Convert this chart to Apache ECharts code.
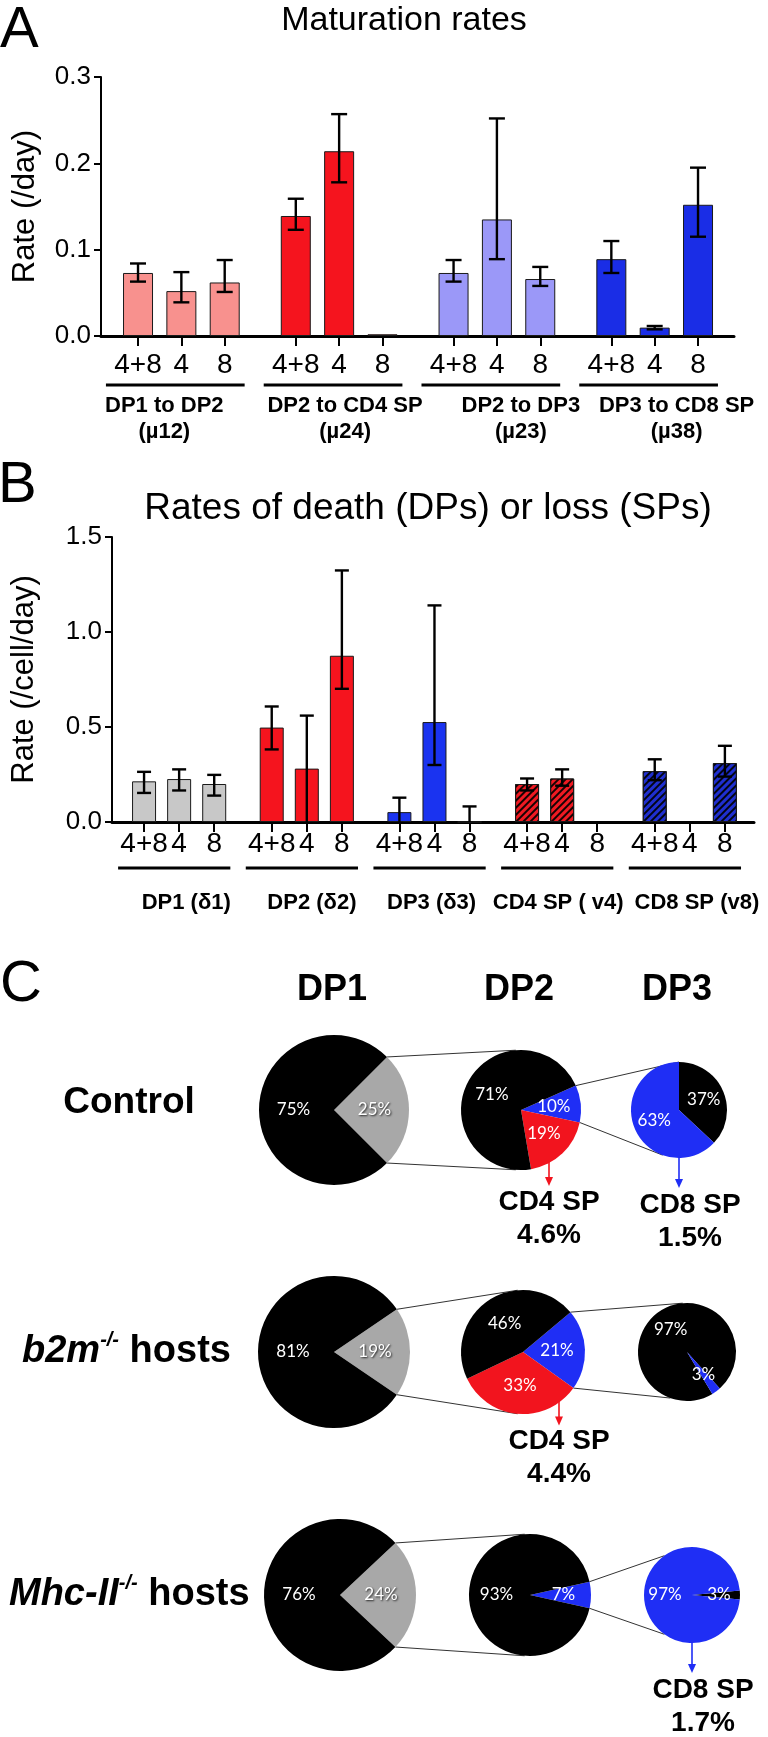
<!DOCTYPE html>
<html>
<head>
<meta charset="utf-8">
<title>Maturation and death rates</title>
<script src="https://cdn.jsdelivr.net/npm/echarts@6/dist/echarts.min.js"></script>
<style>
  html, body { margin: 0; padding: 0; background: #fff; }
  #main { width: 768px; height: 1737px; }
</style>
</head>
<body>
<div id="main"></div>
<script>
// ---------- data ----------
var SUBSETS = ['4+8', '4', '8'];

var A_GROUPS = ['DP1 to DP2\n(\u00b512)', 'DP2 to CD4 SP\n(\u00b524)', 'DP2 to DP3\n(\u00b523)', 'DP3 to CD8 SP\n(\u00b538)'];
var A_RATE = [[0.073, 0.052, 0.062], [0.139, 0.214, 0.002], [0.073, 0.135, 0.066], [0.089, 0.0097, 0.152]];
var A_LOW  = [[0.063, 0.039, 0.051], [0.123, 0.178, null], [0.063, 0.089, 0.058], [0.073, 0.0077, 0.115]];
var A_HIGH = [[0.084, 0.074, 0.088], [0.159, 0.257, null], [0.088, 0.252, 0.080], [0.110, 0.0116, 0.195]];
var A_TICKS = [0, 0.1, 0.2, 0.3];

var B_GROUPS = ['DP1 (\u03b41)', 'DP2 (\u03b42)', 'DP3 (\u03b43)', 'CD4 SP ( v4)', 'CD8 SP (v8)'];
var B_RATE = [[0.214, 0.226, 0.200], [0.497, 0.281, 0.875], [0.052, 0.526, 0], [0.200, 0.229, null], [0.268, null, 0.310]];
var B_LOW  = [[0.153, 0.166, 0.139], [0.382, 0, 0.701], [0, 0.300, 0], [0.166, 0.191, null], [0.220, null, 0.239]];
var B_HIGH = [[0.264, 0.277, 0.248], [0.608, 0.560, 1.324], [0.128, 1.14, 0.082], [0.229, 0.277, null], [0.330, null, 0.401]];
var B_TICKS = [0, 0.5, 1.0, 1.5];

var PIE_COLUMNS = ['DP1', 'DP2', 'DP3'];
var HOSTS = [['Control'], ['b2m', '-/-', ' hosts'], ['Mhc-II', '-/-', ' hosts']];
var DP1_SPLIT = [[75, 25], [81, 19], [76, 24]];             // stay, go on to DP2
var DP2_SPLIT = [[10, 19, 71], [21, 33, 46], [7, 0, 93]];   // to DP3, to CD4 SP, stay
var DP3_SPLIT = [[37, 63], [97, 3], [3, 97]];               // stay, to CD8 SP
var CD4_OUT = ['4.6%', '4.4%', null];
var CD8_OUT = ['1.5%', null, '1.7%'];

// ---------- layout / style ----------
var FONT = '"Liberation Sans", Arial, Helvetica, sans-serif';
var PCT_FONT = 'Lato, "Open Sans", sans-serif';
var GROUP_STEP = 3.64;
var A_COLORS = ['#f8918e', '#f5141e', '#9b98f8', '#1a2de6'];
var B_COLORS = ['#c8c8c8', '#f5141e', '#1a33f0', '#f01a22', '#1f2fd0'];
var B_HATCH = [false, false, false, true, true];
var A_SHIFT = [-11, 12, 30, 28];
var B_SHIFT = [12, 10, 2, 1, 12];

// pie centres and radii per row: DP1, DP2, DP3
var PIES = [
  [[334, 1110, 75], [521, 1110, 60], [679, 1110, 48]],
  [[334, 1352, 76], [523, 1352, 62], [687, 1352, 49]],
  [[340, 1595, 76], [530, 1595, 61], [692, 1595, 48]]
];
var DP2_START = [24, 40, 12.6];
var DP3_START = [90, -58.8, 5.4];
var LINK3 = [[90, -110], [95, -110], [125, -125]];
var CD4_DX = [28, 36, 0];

function pos(g, i) { return +(g * GROUP_STEP + i).toFixed(3); }

var chart = echarts.init(document.getElementById('main'));

function panel(p) {
  var bars = [], errs = [], ticks = [], labels = [];
  p.rate.forEach(function (row, g) {
    row.forEach(function (v, i) {
      var x = pos(g, i);
      ticks.push(x);
      labels.push(SUBSETS[i]);
      if (v != null) {
        var st = { color: p.colors[g], borderColor: '#1a1a1a', borderWidth: 1 };
        if (p.hatch && p.hatch[g]) {
          st.decal = { symbol: 'rect', symbolSize: 1, dashArrayX: [1, 0], dashArrayY: [2, 3],
                       rotation: -Math.PI / 4, color: 'rgba(0,0,0,0.9)' };
        }
        bars.push({ value: [x, v], itemStyle: st });
      }
      if (p.low[g][i] != null) errs.push([x, p.low[g][i], p.high[g][i]]);
    });
  });

  var xAxis = {
    type: 'value', gridIndex: p.grid, min: p.xmin, max: p.xmax,
    splitLine: { show: false },
    axisLine: { show: true, onZero: false, lineStyle: { color: '#000', width: 3 } },
    axisTick: { show: true, customValues: ticks, length: 10, lineStyle: { color: '#000', width: 2 } },
    axisLabel: {
      customValues: ticks, margin: p.labelMargin, color: '#000', fontSize: 28, fontFamily: FONT,
      formatter: function (val) {
        for (var k = 0; k < ticks.length; k++) if (Math.abs(ticks[k] - val) < 1e-6) return labels[k];
        return '';
      }
    }
  };
  var yAxis = {
    type: 'value', gridIndex: p.grid, min: 0, max: p.ticks[p.ticks.length - 1], interval: p.ticks[1],
    name: p.yName, nameLocation: 'middle', nameGap: p.nameGap,
    nameTextStyle: { fontSize: 31, fontFamily: FONT, color: '#000' },
    splitLine: { show: false },
    axisLine: { show: true, onZero: false, lineStyle: { color: '#000', width: 2 } },
    axisTick: { show: true, length: 7, lineStyle: { color: '#000', width: 2 } },
    axisLabel: { margin: 10, color: '#000', fontSize: 26, fontFamily: FONT,
                 formatter: function (v) { return v.toFixed(1); } }
  };

  var series = [{
    type: 'bar', xAxisIndex: p.grid, yAxisIndex: p.grid, barWidth: p.barWidth,
    data: bars, silent: true, z: 2
  }, {
    type: 'custom', xAxisIndex: p.grid, yAxisIndex: p.grid, silent: true, z: 3, clip: false,
    data: errs,
    renderItem: function (params, api) {
      var x = api.value(0), lo = api.value(1), hi = api.value(2);
      var top = api.coord([x, hi]), bot = api.coord([x, lo]);
      var h = p.cap / 2;
      var st = { stroke: '#000', lineWidth: 2.4 };
      var kids = [
        { type: 'line', shape: { x1: top[0], y1: top[1], x2: bot[0], y2: bot[1] }, style: st },
        { type: 'line', shape: { x1: top[0] - h, y1: top[1], x2: top[0] + h, y2: top[1] }, style: st }
      ];
      if (lo > 0) kids.push({ type: 'line', shape: { x1: bot[0] - h, y1: bot[1], x2: bot[0] + h, y2: bot[1] }, style: st });
      return { type: 'group', children: kids };
    }
  }, {
    type: 'custom', xAxisIndex: p.grid, yAxisIndex: p.grid, silent: true, clip: false,
    data: p.groups.map(function (n, g) { return [pos(g, 0), 0]; }),
    renderItem: function (params, api) {
      var g = params.dataIndex;
      var l = api.coord([pos(g, 0) - 0.74, 0]);
      var r = api.coord([pos(g, 2) + 0.46, 0]);
      var y = l[1] + p.lineOff;
      return { type: 'group', children: [
        { type: 'line', shape: { x1: l[0], y1: y, x2: r[0], y2: y }, style: { stroke: '#000', lineWidth: 3 } },
        { type: 'text', style: { text: p.groups[g], x: (l[0] + r[0]) / 2 + p.shift[g], y: l[1] + p.textOff,
          align: 'center', verticalAlign: 'top', lineHeight: 26,
          font: 'bold 22px ' + FONT, fill: '#000' } }
      ] };
    }
  }];
  return { xAxis: xAxis, yAxis: yAxis, series: series };
}

var pa = panel({ rate: A_RATE, low: A_LOW, high: A_HIGH, groups: A_GROUPS, colors: A_COLORS,
  grid: 0, xmin: -0.854, xmax: 13.75, ticks: A_TICKS, yName: 'Rate (/day)', nameGap: 60,
  barWidth: 30, cap: 16, labelMargin: 15, lineOff: 49, textOff: 57, shift: A_SHIFT });
var pb = panel({ rate: B_RATE, low: B_LOW, high: B_HIGH, groups: B_GROUPS, colors: B_COLORS, hatch: B_HATCH,
  grid: 1, xmin: -0.914, xmax: 17.39, ticks: B_TICKS, yName: 'Rate (/cell/day)', nameGap: 72,
  barWidth: 24, cap: 14, labelMargin: 8, lineOff: 46, textOff: 68, shift: B_SHIFT });

// ---------- pies ----------
var BLACK = '#000', GREY = '#a8a8a8', BLUE = '#1f2ef5', RED = '#f2141e';
var pieSeries = [];
var shadow = { textShadowColor: 'rgba(0,0,0,0.8)', textShadowBlur: 2, textShadowOffsetX: 1, textShadowOffsetY: 1 };

function pie(c, start, items) {
  return {
    type: 'pie', center: [c[0], c[1]], radius: c[2], startAngle: start, clockwise: true,
    silent: true, avoidLabelOverlap: false, z: 3,
    label: { show: true, position: 'inside', formatter: '{c}%', color: '#fff', fontSize: 17, fontFamily: PCT_FONT },
    labelLine: { show: false },
    emphasis: { disabled: true },
    data: items.filter(function (d) { return d.value > 0; })
  };
}

PIES.forEach(function (row, r) {
  var d1 = DP1_SPLIT[r], d2 = DP2_SPLIT[r], d3 = DP3_SPLIT[r];
  pieSeries.push(pie(row[0], d1[1] * 1.8, [
    { value: d1[1], name: 'to DP2', itemStyle: { color: GREY }, label: shadow },
    { value: d1[0], name: 'DP1', itemStyle: { color: BLACK } }
  ]));
  pieSeries.push(pie(row[1], DP2_START[r], [
    { value: d2[0], name: 'to DP3', itemStyle: { color: BLUE } },
    { value: d2[1], name: 'to CD4 SP', itemStyle: { color: RED } },
    { value: d2[2], name: 'DP2', itemStyle: { color: BLACK } }
  ]));
  pieSeries.push(pie(row[2], DP3_START[r], [
    { value: d3[0], name: 'DP3', itemStyle: { color: BLACK } },
    { value: d3[1], name: 'to CD8 SP', itemStyle: { color: BLUE } }
  ]));
});

// ---------- annotations ----------
function polar(c, deg, rr) {
  var a = deg * Math.PI / 180, rad = rr == null ? c[2] : rr;
  return [c[0] + rad * Math.cos(a), c[1] - rad * Math.sin(a)];
}
function seg(p, q, color, w) {
  return { type: 'line', silent: true, z: 1, shape: { x1: p[0], y1: p[1], x2: q[0], y2: q[1] },
           style: { stroke: color || '#333', lineWidth: w || 1 } };
}
function txt(s, x, y, font, align) {
  return { type: 'text', silent: true, z: 5,
           style: { text: s, x: x, y: y, font: font, fill: '#000', align: align || 'center', verticalAlign: 'middle' } };
}
function arrow(x, y0, y1, color) {
  return [seg([x, y0], [x, y1 - 6], color, 1.6),
    { type: 'polygon', silent: true, z: 1, shape: { points: [[x - 4, y1 - 9], [x + 4, y1 - 9], [x, y1]] }, style: { fill: color } }];
}

var gfx = [
  txt('A', 0, 31, '58px ' + FONT, 'left'),
  txt('Maturation rates', 404, 21, '34px ' + FONT),
  txt('B', -2, 486, '58px ' + FONT, 'left'),
  txt('Rates of death (DPs) or loss (SPs)', 428, 509, '37px ' + FONT),
  txt('C', 0, 985, '58px ' + FONT, 'left')
];
PIE_COLUMNS.forEach(function (n, k) {
  gfx.push(txt(n, PIES[0][k][0] - 2, 990, 'bold 36px ' + FONT));
});
HOSTS.forEach(function (h, r) {
  var cy = PIES[r][0][1];
  if (h.length === 1) {
    gfx.push(txt(h[0], 129, cy - 7, 'bold 37px ' + FONT));
  } else {
    gfx.push({ type: 'text', silent: true, z: 5, style: {
      text: '{i|' + h[0] + '}{s|' + h[1] + '}{b|' + h[2] + '}',
      x: r === 1 ? 22 : 9, y: cy, align: 'left', verticalAlign: 'middle', fill: '#000',
      rich: {
        i: { fontFamily: FONT, fontSize: 38, fontWeight: 'bold', fontStyle: 'italic', lineHeight: 44 },
        s: { fontFamily: FONT, fontSize: 20, fontWeight: 'bold', fontStyle: 'italic', lineHeight: 24, verticalAlign: 'top' },
        b: { fontFamily: FONT, fontSize: 38, fontWeight: 'bold', lineHeight: 44 }
      } } });
  }
});
PIES.forEach(function (row, r) {
  var c1 = row[0], c2 = row[1], c3 = row[2];
  var half = DP1_SPLIT[r][1] * 1.8;
  gfx.push(seg(polar(c1, half), polar(c2, 95)));
  gfx.push(seg(polar(c1, -half), polar(c2, -95)));
  var a0 = DP2_START[r], a1 = a0 - DP2_SPLIT[r][0] * 3.6;
  gfx.push(seg(polar(c2, a0), polar(c3, LINK3[r][0])));
  gfx.push(seg(polar(c2, a1), polar(c3, LINK3[r][1])));
  if (CD4_OUT[r]) {
    var dx = CD4_DX[r], x = c2[0] + dx;
    var y0 = c2[1] + Math.sqrt(c2[2] * c2[2] - dx * dx) - 2, y1 = y0 + 25;
    gfx = gfx.concat(arrow(x, y0, y1, RED));
    gfx.push(txt('CD4 SP', x, y1 + 16, 'bold 28px ' + FONT));
    gfx.push(txt(CD4_OUT[r], x, y1 + 49, 'bold 28px ' + FONT));
  }
  if (CD8_OUT[r]) {
    var xb = c3[0], yb0 = c3[1] + c3[2] - 1, yb1 = yb0 + 31;
    gfx = gfx.concat(arrow(xb, yb0, yb1, BLUE));
    gfx.push(txt('CD8 SP', xb + 11, yb1 + 17, 'bold 28px ' + FONT));
    gfx.push(txt(CD8_OUT[r], xb + 11, yb1 + 50, 'bold 28px ' + FONT));
  }
});

chart.setOption({
  animation: false,
  backgroundColor: '#fff',
  grid: [
    { left: 101, top: 77, width: 633, height: 259 },
    { left: 112, top: 537, width: 642, height: 285 }
  ],
  xAxis: [pa.xAxis, pb.xAxis],
  yAxis: [pa.yAxis, pb.yAxis],
  series: pa.series.concat(pb.series, pieSeries),
  graphic: gfx
});
</script>
</body>
</html>
